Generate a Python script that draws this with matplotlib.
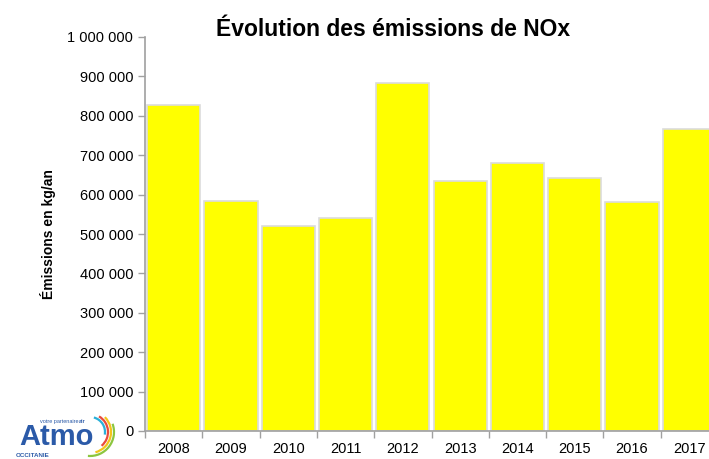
import numpy as np
import matplotlib.pyplot as plt
from matplotlib.patches import Arc
from matplotlib.ticker import FuncFormatter

plt.rcParams['font.family'] = ['Liberation Sans', 'DejaVu Sans']

# Data
years = ['2008', '2009', '2010', '2011', '2012', '2013', '2014', '2015', '2016', '2017']
emissions = [827000, 584000, 520000, 541000, 883000, 635000, 680000, 642000, 581000, 766000]

fig = plt.figure(figsize=(7.09, 4.59), dpi=100)
ax = fig.add_axes([145 / 709, 28 / 459, 573 / 709, 394 / 459])

x = np.arange(len(years))
ax.bar(x, emissions, width=0.93, color='#ffff00', edgecolor='#dcdcdc', linewidth=1.2)

ax.set_xlim(-0.5, len(years) - 0.5)
ax.set_ylim(0, 1000000)
ax.set_yticks(np.arange(0, 1000001, 100000))
ax.yaxis.set_major_formatter(FuncFormatter(lambda v, p: f"{int(v):,}".replace(',', ' ')))
ax.set_xticks(x)
ax.set_xticklabels(years)
ax.set_xticks(np.arange(-0.5, len(years)), minor=True)
ax.tick_params(axis='x', which='major', length=0, labelsize=10.5, pad=8)
ax.tick_params(axis='x', which='minor', length=5, color='#a0a0a0', width=1)
ax.tick_params(axis='y', length=5, color='#a0a0a0', width=1, labelsize=10.5)

for s in ['top', 'right']:
    ax.spines[s].set_visible(False)
for s in ['left', 'bottom']:
    ax.spines[s].set_color('#a0a0a0')
    ax.spines[s].set_linewidth(1.2)

ax.set_ylabel('Émissions en kg/an', fontsize=10, fontweight='bold', labelpad=8)
fig.text(0.555, 1 - 36 / 459, 'Évolution des émissions de NOx', ha='center', va='baseline',
         fontsize=16.5, fontweight='bold')

# Logo approximation (coordinates in pixels from the bottom-left corner)
lax = fig.add_axes([0, 0, 140 / 709, 60 / 459])
lax.set_xlim(0, 140)
lax.set_ylim(0, 60)
lax.axis('off')
blue = '#2b5aa8'
lax.text(19, 14, 'Atmo', fontsize=21, fontweight='bold', color=blue, va='baseline')
lax.text(16, 2, 'OCCITANIE', fontsize=4.5, fontweight='bold', color=blue, va='baseline')
lax.text(78, 36, 'votre partenaire', fontsize=4, color=blue, va='baseline', ha='right')
lax.text(79, 36, 'air', fontsize=4, color=blue, fontweight='bold', va='baseline', ha='left')
for r, c, t1, t2 in [(30, '#2ab0d8', -10, 75), (36, '#e84a3c', -50, 60),
                     (42, '#f3c41b', -75, 45), (48, '#8cc63f', -95, 20)]:
    lax.add_patch(Arc((90, 27), r, r, theta1=t1, theta2=t2, color=c, lw=1.6))

plt.savefig('out.png', dpi=100)
